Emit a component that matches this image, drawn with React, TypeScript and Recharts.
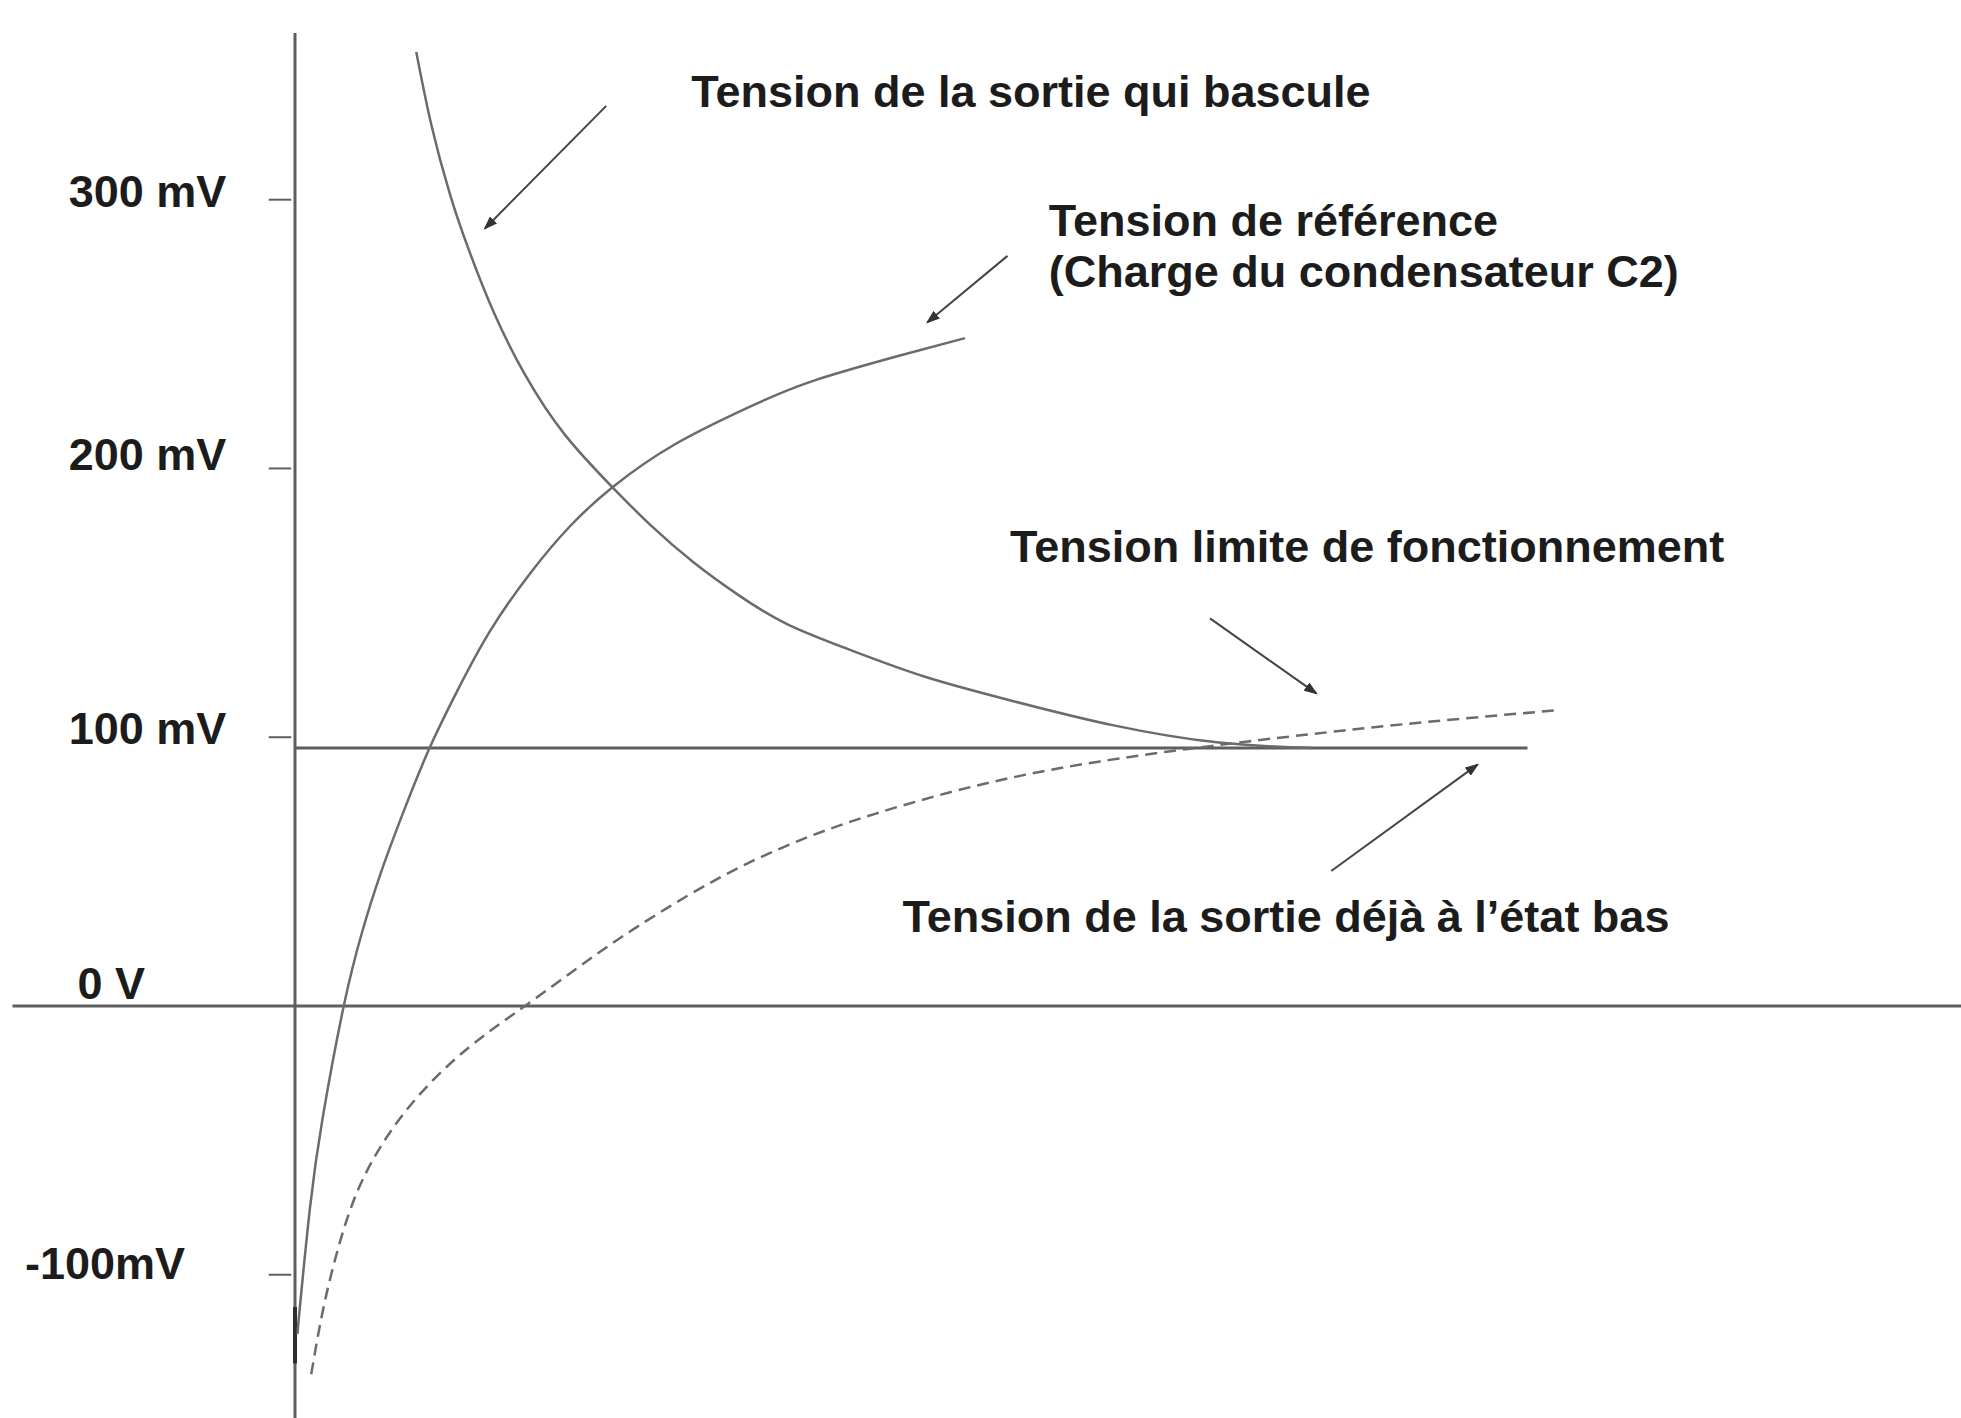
import { LineChart, Line, XAxis, YAxis, ReferenceLine, ReferenceDot } from 'recharts'

// time axis is unlabeled: t = arbitrary units, 0 at the vertical axis
const tBascule = [0.97, 1.09, 1.24, 1.39, 1.59, 1.84, 2.16, 2.54, 2.84, 3.19, 3.56, 3.94, 4.44, 5.04, 5.74, 6.54, 7.39, 8.14]
const vBascule = [355, 328, 302, 281.4, 258.1, 234.9, 212.5, 193, 179.1, 165, 152.5, 142, 132.5, 122.5, 113.5, 104.5, 98, 96]

const tReference = [0.02, 0.04, 0.12, 0.22, 0.39, 0.54, 0.69, 0.87, 1.07, 1.29, 1.56, 1.89, 2.2, 2.54, 3.04, 3.64, 4.14, 4.84, 5.36]
const vReference = [-122, -111.6, -75, -42, 0, 28, 50, 72.5, 95.3, 116.5, 139.5, 161.5, 178.5, 193, 209, 223, 232.5, 242, 248.5]

const tEtatBas = [0.13, 0.22, 0.34, 0.49, 0.69, 0.94, 1.24, 1.54, 1.84, 2.24, 2.64, 3.14, 3.64, 4.14, 4.64, 5.24, 5.84, 6.44, 7.04, 7.64, 8.39, 9.24, 10.09]
const vEtatBas = [-137, -114, -91, -70, -52, -36, -21.5, -10, 0, 13.5, 26.5, 41, 53.5, 63.5, 71.5, 79.5, 86, 91, 95, 98.5, 102.5, 106.5, 110]

const limitLevel = 96
const limitEnd = 9.86

const tickValues = [300, 200, 100, 0, -100]
const tickLabels = ['300 mV', '200 mV', '100 mV', '0 V', '-100mV']

const notes = [
	{ lines: ['Tension de la sortie qui bascule'], t: 3.17, v: 340.5 },
	{ lines: ['Tension de référence', '(Charge du condensateur C2)'], t: 6.03, v: 292.5 },
	{ lines: ['Tension limite de fonctionnement'], t: 5.72, v: 171.2 },
	{ lines: ['Tension de la sortie déjà à l’état bas'], t: 4.86, v: 33.5 },
]

const arrows = [
	{ from: [2.49, 334.9], to: [1.52, 289.3] },
	{ from: [5.7, 279.1], to: [5.06, 254.4] },
	{ from: [7.32, 144.2], to: [8.17, 116.3] },
	{ from: [8.29, 50.2], to: [9.46, 89.8] },
]

const toPoints = (ts: number[], vs: number[]) => ts.map((t, i) => ({ t, v: vs[i] }))

const W = 1961
const H = 1418
const X_DOMAIN = [-2.36, 13.328]
const Y_DOMAIN = [-153.3, 374.3]
const AXIS = '#5e5e5e'
const CURVE = '#6b6b6b'
const INK = '#1c1c1c'
const FONT = '"Liberation Sans", Arial, sans-serif'
const FONT_SIZE = 45
const LINE_GAP = 51

// where the left labels start (t units) and how far above their tick they sit
const labelStart = [-1.81, -1.81, -1.81, -1.74, -2.16]
const labelLift = [-8, -14, -9, -22, -11]

function Arrow(props: any) {
	const { x1, y1, x2, y2 } = props
	return <line x1={x1} y1={y1} x2={x2} y2={y2} stroke="#444" strokeWidth={2} markerEnd="url(#head)" />
}

export default function App() {
	return (
		<div style={{ position: 'absolute', left: 0, top: 0, width: W, height: H, background: '#fff' }}>
			<LineChart width={W} height={H} margin={{ top: 0, right: 0, bottom: 0, left: 0 }}>
				<defs>
					<marker id="head" markerWidth="14" markerHeight="10" refX="12" refY="5" orient="auto" markerUnits="userSpaceOnUse">
						<path d="M0,0 L14,5 L0,10 Z" fill="#333" />
					</marker>
				</defs>
				<XAxis type="number" dataKey="t" domain={X_DOMAIN} hide allowDataOverflow />
				<YAxis type="number" dataKey="v" domain={Y_DOMAIN} hide allowDataOverflow />

				{/* horizontal 0 V axis, full width */}
				<ReferenceLine segment={[{ x: -2.26, y: 0 }, { x: 13.33, y: 0 }]} stroke={AXIS} strokeWidth={3} ifOverflow="visible" />
				{/* vertical axis */}
				<ReferenceLine segment={[{ x: 0, y: Y_DOMAIN[0] }, { x: 0, y: 362 }]} stroke={AXIS} strokeWidth={3} ifOverflow="visible" />
				<ReferenceLine segment={[{ x: 0, y: -112 }, { x: 0, y: -133 }]} stroke="#2e2e2e" strokeWidth={4} />
				{/* 100 mV limit */}
				<ReferenceLine segment={[{ x: 0, y: limitLevel }, { x: limitEnd, y: limitLevel }]} stroke={AXIS} strokeWidth={3} />

				{tickValues.map((v) =>
					v === 0 ? null : (
						<ReferenceLine key={'tk' + v} segment={[{ x: -0.21, y: v }, { x: -0.03, y: v }]} stroke={AXIS} strokeWidth={2} />
					),
				)}
				{tickValues.map((v, i) => (
					<ReferenceDot
						key={'lb' + v}
						x={labelStart[i]}
						y={v}
						r={0}
						fill="none"
						stroke="none"
						ifOverflow="visible"
						label={(p: any) => (
							<text x={p.viewBox.x} y={p.viewBox.y + labelLift[i]} dominantBaseline="central" fontFamily={FONT} fontWeight="bold" fontSize={FONT_SIZE} fill={INK}>
								{tickLabels[i]}
							</text>
						)}
					/>
				))}

				<Line data={toPoints(tBascule, vBascule)} dataKey="v" type="natural" stroke={CURVE} strokeWidth={2.5} dot={false} activeDot={false} isAnimationActive={false} />
				<Line data={toPoints(tReference, vReference)} dataKey="v" type="natural" stroke={CURVE} strokeWidth={2.5} dot={false} activeDot={false} isAnimationActive={false} />
				<Line data={toPoints(tEtatBas, vEtatBas)} dataKey="v" type="natural" stroke={CURVE} strokeWidth={2.5} strokeDasharray="12 7" dot={false} activeDot={false} isAnimationActive={false} />

				{arrows.map((a, i) => (
					<ReferenceLine key={'ar' + i} segment={[{ x: a.from[0], y: a.from[1] }, { x: a.to[0], y: a.to[1] }]} shape={Arrow} />
				))}

				{notes.map((n, i) => (
					<ReferenceDot
						key={'nt' + i}
						x={n.t}
						y={n.v}
						r={0}
						fill="none"
						stroke="none"
						ifOverflow="visible"
						label={(p: any) => (
							<text x={p.viewBox.x} y={p.viewBox.y} dominantBaseline="central" fontFamily={FONT} fontWeight="bold" fontSize={FONT_SIZE} fill={INK}>
								{n.lines.map((s, j) => (
									<tspan key={j} x={p.viewBox.x} dy={j === 0 ? 0 : LINE_GAP}>
										{s}
									</tspan>
								))}
							</text>
						)}
					/>
				))}
			</LineChart>
		</div>
	)
}
